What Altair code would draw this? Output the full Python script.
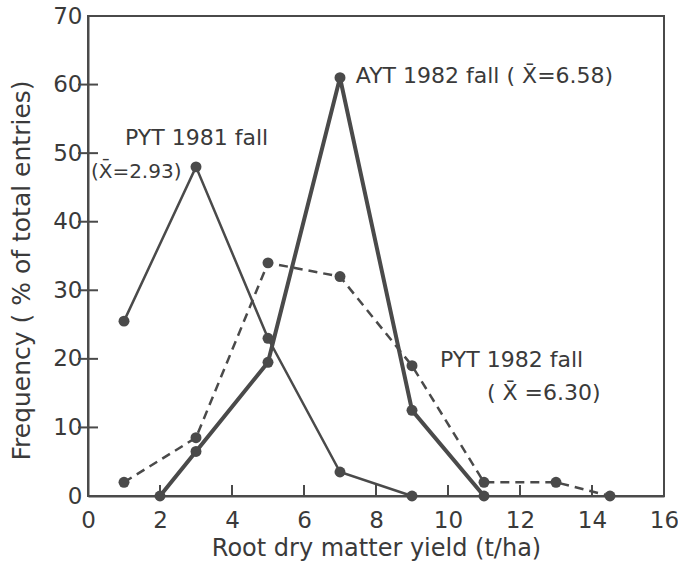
import altair as alt
import pandas as pd

# Frequency distributions of root dry matter yield, by trial
pyt81_x = [1, 3, 5, 7, 9]
pyt81_y = [25.5, 48, 23, 3.5, 0]

ayt82_x = [2, 3, 5, 7, 9, 11]
ayt82_y = [0, 6.5, 19.5, 61, 12.5, 0]

pyt82_x = [1, 3, 5, 7, 9, 11, 13, 14.5]
pyt82_y = [2, 8.5, 34, 32, 19, 2, 2, 0]

x_tick_values = list(range(0, 17, 2))
y_tick_values = list(range(0, 71, 10))

# Series annotations (text, anchor in data units)
note_text = ["PYT 1981 fall", "AYT 1982 fall ( X\u0304=6.58)",
             "PYT 1982 fall", "( X\u0304 =6.30)"]
note_x = [1.03, 7.44, 9.78, 11.08]
note_y = [52.2, 61.2, 19.8, 15.0]

mean81_text = ["(X\u0304=2.93)"]
mean81_x = [0.08]
mean81_y = [47.3]

INK = "#4a4a4a"
TXT = "#3a3a3a"
FONT = "DejaVu Sans"
W, H = 576, 480

def frame(xs, ys, name):
    return pd.DataFrame({"yield": xs, "freq": ys, "series": name})

d81 = frame(pyt81_x, pyt81_y, "PYT 1981 fall")
d82a = frame(ayt82_x, ayt82_y, "AYT 1982 fall")
d82p = frame(pyt82_x, pyt82_y, "PYT 1982 fall")
notes = pd.DataFrame({"text": note_text, "x": note_x, "y": note_y})
mean81 = pd.DataFrame({"text": mean81_text, "x": mean81_x, "y": mean81_y})

xs = alt.Scale(domain=[0, 16], nice=False, zero=False)
ys = alt.Scale(domain=[0, 70], nice=False)

x_main = alt.X("yield:Q", scale=xs, title="Root dry matter yield (t/ha)",
               axis=alt.Axis(values=x_tick_values, ticks=False, labelFlush=False,
                             labelPadding=13, titlePadding=4, titleFontSize=24))
y_main = alt.Y("freq:Q", scale=ys, title="Frequency ( % of total entries)",
               axis=alt.Axis(values=y_tick_values, ticks=False, labelFlush=False,
                             labelPadding=6, titlePadding=18, titleY=254))

# inward tick marks along the bottom and left edges
xt = alt.Chart(pd.DataFrame({"xv": x_tick_values[1:-1]})).mark_rule(
    color=INK, strokeWidth=2).encode(
    x=alt.X("xv:Q", scale=xs), y=alt.value(H), y2=alt.value(H - 11))
yt = alt.Chart(pd.DataFrame({"yv": y_tick_values[1:-1]})).mark_tick(
    color=INK, thickness=2, size=20, opacity=1).encode(
    y=alt.Y("yv:Q", scale=ys), x=alt.value(0))

line81 = alt.Chart(d81).mark_line(color=INK, strokeWidth=2.5).encode(x=x_main, y=y_main)
line82a = alt.Chart(d82a).mark_line(color=INK, strokeWidth=4).encode(x="yield:Q", y="freq:Q")
line82p = alt.Chart(d82p).mark_line(color=INK, strokeWidth=2.5, strokeDash=[9, 6]).encode(
    x="yield:Q", y="freq:Q")

pts = alt.Chart(pd.concat([d81, d82a, d82p])).mark_circle(
    color=INK, size=120, opacity=1).encode(x="yield:Q", y="freq:Q")

labels = alt.Chart(notes).mark_text(
    align="left", baseline="middle", font=FONT, fontSize=22, color=TXT
).encode(x="x:Q", y="y:Q", text="text:N")

mean_label = alt.Chart(mean81).mark_text(
    align="left", baseline="middle", font=FONT, fontSize=20, color=TXT
).encode(x="x:Q", y="y:Q", text="text:N")

chart = alt.layer(line81, line82a, line82p, pts, xt, yt, labels, mean_label).properties(
    width=W, height=H,
    autosize=alt.AutoSizeParams(type="none"),
    padding={"left": 88, "top": 16, "right": 14, "bottom": 67},
    background="white",
).configure_view(
    stroke=INK, strokeWidth=2
).configure_axis(
    domainColor=INK, domainWidth=2, grid=False,
    labelFont=FONT, labelFontSize=23, labelColor=TXT,
    titleFont=FONT, titleFontSize=25, titleFontWeight="normal", titleColor=TXT,
)

chart.save("out.html", embed_options={"renderer": "svg", "actions": False})
